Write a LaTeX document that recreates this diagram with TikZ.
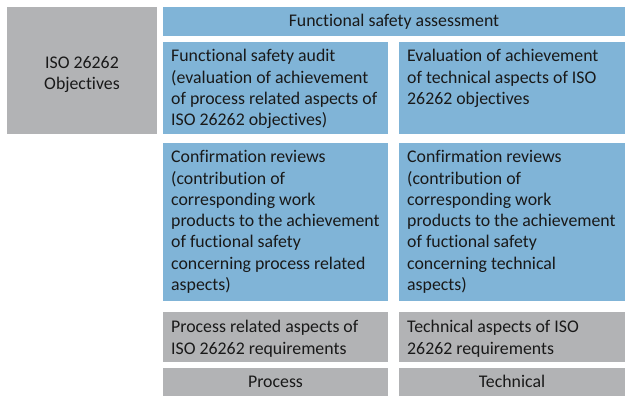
\documentclass[tikz,border=0pt]{standalone}
\usepackage{fontspec}
\setmainfont[Ligatures={NoCommon}]{Carlito}
\definecolor{bluebox}{RGB}{128,180,215}
\definecolor{graybox}{RGB}{178,179,181}
\definecolor{txtcol}{RGB}{25,25,25}
\begin{document}
\begin{tikzpicture}[x=1pt,y=-1pt,
  cell/.style={draw=none,inner sep=0pt,outer sep=0pt,anchor=north west},
  bluecell/.style={cell,fill=bluebox},
  graycell/.style={cell,fill=graybox},
  lbl/.style={inner sep=0pt,anchor=north west,align=left,text=txtcol,
    font=\fontsize{17.8}{21.3}\selectfont},
  clbl/.style={inner sep=0pt,align=center,text=txtcol,
    font=\fontsize{17.8}{21.3}\selectfont}]
\useasboundingbox[fill=white] (0,0) rectangle (635,404);
% boxes
\node[graycell,minimum width=150pt,minimum height=127pt] (obj) at (7,7) {};
\node[bluecell,minimum width=462pt,minimum height=29pt] (fsa) at (163,7) {};
\node[bluecell,minimum width=225pt,minimum height=92pt] (audit) at (163,42) {};
\node[bluecell,minimum width=226pt,minimum height=92pt] (evalt) at (399,42) {};
\node[bluecell,minimum width=225pt,minimum height=158pt] (confp) at (163,143) {};
\node[bluecell,minimum width=226pt,minimum height=158pt] (conft) at (399,143) {};
\node[graycell,minimum width=225pt,minimum height=50pt] (reqp) at (163,312) {};
\node[graycell,minimum width=226pt,minimum height=50pt] (reqt) at (399,312) {};
\node[graycell,minimum width=225pt,minimum height=28pt] (proc) at (163,368) {};
\node[graycell,minimum width=226pt,minimum height=28pt] (tech) at (399,368) {};
% texts
\node[clbl] (objt) at ([yshift=-4pt]obj.center) {ISO 26262\\Objectives};
\node[clbl,anchor=base] (fsat) at ([yshift=-20pt]fsa.north) {Functional safety assessment};
\node[lbl] (auditt) at ([xshift=8pt,yshift=-4.6pt]audit.north west)
  {\strut Functional safety audit\\\strut(evaluation of achievement\\\strut of process related aspects of\\\strut ISO 26262 objectives)};
\node[lbl] (evaltt) at ([xshift=8pt,yshift=-4.6pt]evalt.north west)
  {\strut Evaluation of achievement\\\strut of technical aspects of ISO\\\strut 26262 objectives};
\node[lbl] (confpt) at ([xshift=8pt,yshift=-4.6pt]confp.north west)
  {\strut Confirmation reviews\\\strut(contribution of\\\strut corresponding work\\\strut products to the achievement\\\strut of fuctional safety\\\strut concerning process related\\\strut aspects)};
\node[lbl] (conftt) at ([xshift=8pt,yshift=-4.6pt]conft.north west)
  {\strut Confirmation reviews\\\strut(contribution of\\\strut corresponding work\\\strut products to the achievement\\\strut of fuctional safety\\\strut concerning technical\\\strut aspects)};
\node[lbl] (reqpt) at ([xshift=8pt,yshift=-5.6pt]reqp.north west)
  {\strut Process related aspects of\\\strut ISO 26262 requirements};
\node[lbl] (reqtt) at ([xshift=8pt,yshift=-5.6pt]reqt.north west)
  {\strut Technical aspects of ISO\\\strut 26262 requirements};
\node[clbl,anchor=base] (proct) at ([yshift=-19.5pt]proc.north) {Process};
\node[clbl,anchor=base] (techt) at ([yshift=-19.5pt]tech.north) {Technical};
\end{tikzpicture}
\end{document}
